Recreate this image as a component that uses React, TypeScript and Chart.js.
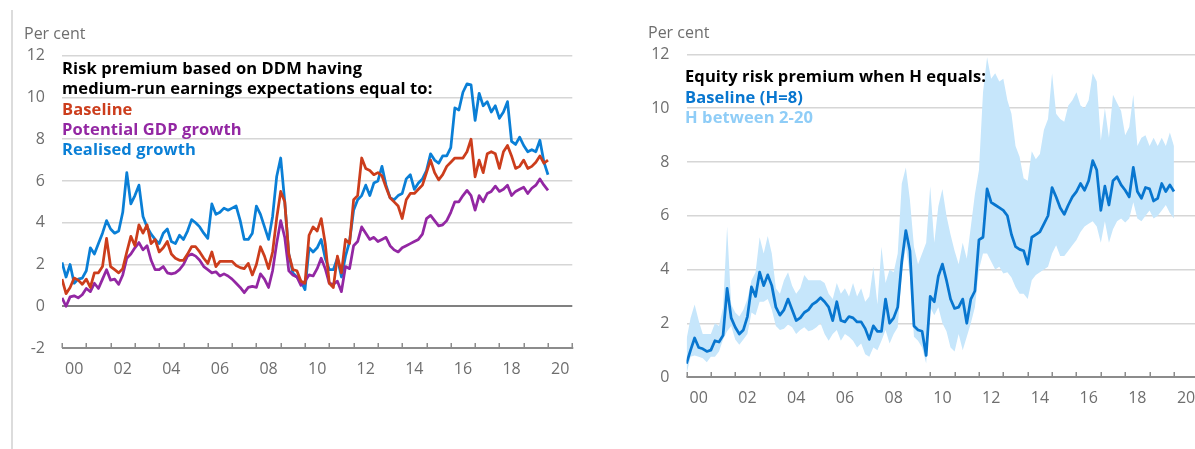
import React, { useEffect, useRef } from 'react';
import { Chart, registerables } from 'chart.js';

Chart.register(...registerables);

// Bi-monthly observations, Jan 2000 .. Jan 2020
const leftBaseline = [
  1.3, 0.6, 0.9, 1.35, 1.25, 1.05,
  1.3, 0.9, 1.6, 1.6, 1.9, 3.25,
  1.9, 1.75, 1.6, 1.8, 2.6, 3.35,
  2.9, 3.9, 3.5, 3.9, 3.0, 3.2,
  2.6, 2.8, 3.1, 2.5, 2.3, 2.2,
  2.2, 2.5, 2.85, 2.85, 2.6, 2.3,
  2.05, 2.6, 1.9, 2.15, 2.15, 2.15,
  2.15, 1.95, 1.85, 1.8, 2.05, 1.5,
  2.0, 2.85, 2.4, 1.8, 2.6, 4.2,
  5.5, 5.0, 2.5, 1.75, 1.7, 1.2,
  1.1, 3.4, 3.8, 3.6, 4.2, 3.0,
  1.1, 0.9, 2.4, 1.6, 3.2, 3.0,
  5.1, 5.3, 7.1, 6.6, 6.5, 6.3,
  6.4, 6.25, 5.7, 5.2, 5.0, 4.8,
  4.2, 5.1, 5.4, 5.4, 5.6, 5.8,
  6.4, 7.0, 6.4, 6.05, 6.3, 6.7,
  6.9, 7.1, 7.1, 7.1, 7.4, 8.0,
  6.2, 7.0, 6.4, 7.3, 7.4, 7.3,
  6.6, 7.4, 7.7, 7.2, 6.6, 6.7,
  7.0, 6.6, 6.7, 6.9, 7.2, 6.85,
  7.0,
];

const leftPotential = [
  0.4, 0.0, 0.45, 0.5, 0.4, 0.55,
  0.85, 0.7, 1.1, 0.85, 1.3, 1.75,
  1.25, 1.3, 1.05, 1.5, 2.3, 2.5,
  2.8, 3.05, 2.7, 2.9, 2.2, 1.75,
  1.75, 1.9, 1.6, 1.55, 1.6, 1.75,
  2.0, 2.4, 2.5, 2.4, 2.2, 1.9,
  1.75, 1.6, 1.65, 1.45, 1.55, 1.45,
  1.3, 1.1, 0.9, 0.65, 0.9, 0.95,
  0.9, 1.55, 1.3, 0.9, 1.7, 3.0,
  4.1, 3.3, 1.7, 1.5, 1.4, 1.0,
  1.2, 1.5, 1.45, 1.8, 2.3, 1.8,
  1.1, 1.05, 1.2, 0.7, 1.9, 1.8,
  2.9, 3.1, 3.8, 3.5, 3.2, 3.3,
  3.1, 3.2, 3.3, 2.9, 2.7, 2.6,
  2.8, 2.9, 3.0, 3.1, 3.2, 3.45,
  4.2, 4.35, 4.1, 3.85, 3.9, 4.1,
  4.5, 5.0, 5.0, 5.3, 5.55, 5.3,
  4.6, 5.3, 5.0, 5.4, 5.5, 5.75,
  5.5, 5.6, 5.8, 5.3, 5.5, 5.6,
  5.7, 5.4, 5.65, 5.8, 6.1, 5.8,
  5.55,
];

const leftRealised = [
  2.1, 1.4, 2.0, 1.1, 1.3, 1.35,
  1.7, 2.8, 2.5, 3.0, 3.5, 4.1,
  3.7, 3.5, 3.6, 4.5, 6.4, 4.9,
  5.3, 5.8, 4.3, 3.8, 3.45, 3.2,
  3.0, 3.5, 3.7, 3.1, 3.0, 3.4,
  3.2, 3.6, 4.15, 4.0, 3.8, 3.5,
  3.25, 4.9, 4.4, 4.5, 4.7, 4.6,
  4.7, 4.8, 4.1, 3.2, 3.2, 3.5,
  4.8, 4.4, 3.8, 3.2, 4.3, 6.2,
  7.1, 5.0, 2.5, 1.6, 1.4, 1.2,
  0.8, 2.8, 2.6, 2.8, 3.2, 2.3,
  1.75, 1.75, 2.3, 1.4, 2.4, 3.1,
  4.6, 5.1, 5.3, 5.8, 5.3, 5.9,
  6.0, 6.7, 5.8, 5.2, 5.1, 5.3,
  5.4, 6.1, 6.3, 5.6, 5.9, 6.1,
  6.5, 7.3, 7.0, 6.85, 7.2, 7.2,
  7.6, 9.5, 9.4, 10.25, 10.65, 10.6,
  8.9, 10.2, 9.6, 9.8, 9.3, 9.6,
  9.0, 9.3, 9.8, 7.9, 7.75, 8.1,
  7.7, 7.4, 7.5, 7.4, 7.95, 6.9,
  6.3,
];

const rightBaseline = [
  0.5, 1.0, 1.45, 1.1, 1.05, 0.95,
  1.0, 1.35, 1.3, 1.55, 3.3, 2.2,
  1.85, 1.6, 1.75, 2.25, 3.35, 3.0,
  3.9, 3.4, 3.8, 3.4, 2.6, 2.3,
  2.5, 2.9, 2.5, 2.1, 2.2, 2.4,
  2.5, 2.7, 2.8, 2.95, 2.8, 2.6,
  2.1, 2.8, 2.1, 2.05, 2.25, 2.2,
  2.05, 2.05, 1.8, 1.4, 1.9, 1.7,
  1.7, 2.9, 2.0, 2.2, 2.6, 4.3,
  5.45, 4.7, 1.9, 1.75, 1.7, 0.8,
  3.0, 2.8, 3.75, 4.2, 3.6, 2.9,
  2.55, 2.6, 2.9, 2.0, 2.9, 3.2,
  5.1, 5.2, 7.0, 6.5, 6.4, 6.3,
  6.2, 6.0, 5.3, 4.85, 4.75, 4.7,
  4.2, 5.2, 5.3, 5.4, 5.7, 6.0,
  7.05, 6.7, 6.3, 6.05, 6.4, 6.7,
  6.9, 7.2, 6.95, 7.3, 8.05, 7.7,
  6.2, 7.1, 6.4, 7.3, 7.45, 7.15,
  6.95, 6.7, 7.8, 6.9, 6.65, 7.05,
  7.0, 6.55, 6.65, 7.2, 6.9, 7.15,
  6.9,
];

const rightUpper = [
  1.4, 2.2, 2.7, 2.1, 1.6, 1.6,
  1.6, 2.0, 1.9, 2.6, 5.6, 2.7,
  2.4, 2.25, 2.5, 2.9, 3.6, 3.9,
  5.2, 4.6, 5.25, 4.6, 3.3, 3.1,
  3.6, 3.9, 3.4, 3.1, 3.3, 3.8,
  3.6, 3.6, 3.6, 3.6, 3.5, 3.1,
  2.9, 3.5, 3.1, 3.3, 3.0, 3.5,
  3.0, 3.3, 2.8, 3.0, 4.1, 2.7,
  4.85, 3.5, 4.0, 3.9, 4.6, 7.2,
  7.8, 6.6, 4.85, 4.2, 4.6, 5.0,
  7.1, 5.0, 6.35, 7.0, 6.0, 5.3,
  4.7, 4.2, 5.0, 4.4, 5.6, 6.8,
  7.7, 10.6, 11.9, 11.1, 11.3, 11.0,
  11.1, 10.3, 9.8, 8.6, 8.2, 7.4,
  7.3, 8.4, 8.1, 8.3, 9.2, 9.6,
  11.3, 9.8, 9.6, 9.5, 10.1, 10.3,
  10.6, 10.1, 10.0, 10.3, 11.3, 11.0,
  8.8, 10.0, 8.9, 10.5, 10.2, 9.9,
  9.0, 9.3, 10.5, 8.6, 8.9, 9.0,
  8.6, 8.9, 8.6, 8.9, 8.6, 9.1,
  8.6,
];

const rightLower = [
  0.1, 0.75, 0.8, 0.75, 0.7, 0.55,
  0.75, 0.75, 0.95, 1.4, 1.7, 1.9,
  1.4, 1.2, 1.4, 1.6, 2.4, 2.3,
  2.8, 2.8, 2.9, 2.5, 1.9, 1.75,
  1.8, 1.95, 1.85, 1.6, 1.75, 1.85,
  1.7, 1.75, 1.85, 2.0, 1.6, 1.35,
  1.6, 1.75, 1.35, 1.6, 1.5, 1.35,
  1.1, 1.25, 0.85, 0.75, 1.1, 1.0,
  1.35, 1.75, 1.25, 1.6, 1.85, 3.85,
  4.85, 3.8, 1.5, 1.35, 1.1, 0.5,
  2.6, 2.3, 2.6, 2.0, 1.7, 1.1,
  0.95, 1.6, 1.0, 1.5, 2.0, 2.6,
  4.0, 4.6, 4.6, 4.3, 4.0, 4.1,
  3.85, 3.9, 3.7, 3.35, 3.1, 3.1,
  2.9, 3.6, 3.8, 3.9, 4.0, 4.1,
  4.6, 4.9, 4.5, 4.5, 4.7, 4.9,
  5.1, 5.4, 5.6, 5.7, 5.8, 5.6,
  5.0, 5.8, 5.0, 5.5, 5.8, 5.9,
  5.75, 5.9, 6.5, 5.9, 5.8, 6.0,
  6.2, 5.9, 6.0, 6.2, 6.4, 6.1,
  5.9,
];

const yearLabels = ['00', '02', '04', '06', '08', '10', '12', '14', '16', '18', '20'];
const labelYears = [2000, 2002, 2004, 2006, 2008, 2010, 2012, 2014, 2016, 2018, 2020];
const tickYears = Array.from({ length: 22 }, (_, i) => 2000 + i);
const dates = leftRealised.map((_, i) => 2000 + i / 6);

const RED = '#cc3d1c';
const PURPLE = '#9327a3';
const BLUE = '#0a7fd6';
const RBLUE = '#0876cf';
const BAND = '#c6e6fb';
const BAND_TEXT = '#8fcdf7';
const GRAY_TEXT = '#6e6e6e';
const GRID = '#d6d6d6';
const AXIS = '#8c8c8c';
const FONT = '"Open Sans", "Noto Sans", sans-serif';

const toPts = (vals: number[]) => vals.map((v, i) => ({ x: dates[i], y: v }));

const axisPlugin = {
  id: 'axisTicks',
  afterDraw(chart: any) {
    const ctx = chart.ctx;
    const xs = chart.scales.x;
    const { left, bottom } = chart.chartArea;
    const right = xs.getPixelForValue(2021);
    ctx.save();
    ctx.strokeStyle = AXIS;
    ctx.lineWidth = 2;
    ctx.beginPath();
    ctx.moveTo(left, bottom);
    ctx.lineTo(right + 1, bottom);
    ctx.stroke();
    ctx.lineWidth = 1.5;
    ctx.beginPath();
    for (const yr of tickYears) {
      const px = Math.round(xs.getPixelForValue(yr)) + 0.25;
      ctx.moveTo(px, bottom);
      ctx.lineTo(px, bottom - 5);
    }
    ctx.stroke();
    ctx.restore();
  },
};

function makeXScale(labelPadding: number, height: number) {
  return {
    type: 'linear',
    min: 2000,
    max: 2021,
    afterBuildTicks: (scale: any) => {
      scale.ticks = labelYears.map((y) => ({ value: y + 0.5 }));
    },
    afterFit: (scale: any) => {
      scale.height = height;
    },
    grid: { display: false, drawTicks: false },
    border: { display: false },
    ticks: {
      autoSkip: false,
      maxRotation: 0,
      padding: labelPadding,
      color: GRAY_TEXT,
      font: { family: FONT, size: 16 },
      callback: (_v: any, i: number) => yearLabels[i],
    },
  };
}

function makeYScale(min: number, max: number, width: number, zeroDark: boolean) {
  return {
    min,
    max,
    afterFit: (scale: any) => {
      scale.width = width;
    },
    border: { display: false },
    grid: {
      drawTicks: false,
      color: (c: any) => {
        const v = c.tick?.value;
        if (v === min) return 'rgba(0,0,0,0)';
        if (v === 0 && zeroDark) return '#808080';
        return GRID;
      },
      lineWidth: (c: any) => (c.tick?.value === 0 && zeroDark ? 2 : 1.5),
    },
    ticks: {
      stepSize: 2,
      padding: 17,
      color: GRAY_TEXT,
      font: { family: FONT, size: 16 },
      callback: (v: any) => String(v),
    },
  };
}

const lineDs = (label: string, vals: number[], color: string) => ({
  label,
  data: toPts(vals),
  borderColor: color,
  backgroundColor: color,
  borderWidth: 2.75,
  pointRadius: 0,
  tension: 0,
  fill: false,
  borderJoinStyle: 'round',
});

function LeftChart() {
  const ref = useRef<HTMLCanvasElement>(null);
  useEffect(() => {
    if (!ref.current) return;
    const chart = new Chart(ref.current, {
      type: 'line',
      data: {
        datasets: [
          lineDs('Baseline', leftBaseline, RED),
          lineDs('Potential GDP growth', leftPotential, PURPLE),
          lineDs('Realised growth', leftRealised, BLUE),
        ],
      },
      options: {
        animation: false,
        responsive: false,
        events: [],
        layout: { padding: { top: 55.7, right: 22.7, left: 0, bottom: 0 } },
        plugins: { legend: { display: false }, tooltip: { enabled: false } },
        scales: {
          x: makeXScale(12, 101),
          y: makeYScale(-2, 12, 62, true),
        },
      } as any,
      plugins: [axisPlugin],
    });
    return () => chart.destroy();
  }, []);
  return <canvas ref={ref} width={595} height={449} style={{ position: 'absolute', left: 0, top: 0, width: 595, height: 449 }} />;
}

function RightChart() {
  const ref = useRef<HTMLCanvasElement>(null);
  useEffect(() => {
    if (!ref.current) return;
    const chart = new Chart(ref.current, {
      type: 'line',
      data: {
        datasets: [
          lineDs('Baseline (H=8)', rightBaseline, RBLUE),
          {
            label: 'H between 2-20',
            data: toPts(rightUpper),
            borderWidth: 0,
            borderColor: BAND,
            backgroundColor: BAND,
            pointRadius: 0,
            tension: 0,
            fill: '+1',
          },
          {
            label: 'H lower',
            data: toPts(rightLower),
            borderWidth: 0,
            borderColor: BAND,
            backgroundColor: BAND,
            pointRadius: 0,
            tension: 0,
            fill: false,
          },
        ],
      },
      options: {
        animation: false,
        responsive: false,
        events: [],
        layout: { padding: { top: 54.5, right: 11.7, left: 0, bottom: 0 } },
        plugins: { legend: { display: false }, tooltip: { enabled: false } },
        scales: {
          x: makeXScale(12, 72),
          y: makeYScale(0, 12, 86.5, false),
        },
      } as any,
      plugins: [axisPlugin],
    });
    return () => chart.destroy();
  }, []);
  return <canvas ref={ref} width={610} height={449} style={{ position: 'absolute', left: 600, top: 0, width: 610, height: 449 }} />;
}

const textBase: React.CSSProperties = {
  position: 'absolute',
  fontFamily: FONT,
  whiteSpace: 'nowrap',
  margin: 0,
};

export default function App() {
  return (
    <div style={{ position: 'absolute', left: 0, top: 0, width: 1195, height: 449, overflow: 'hidden', background: '#fff' }}>
      <div style={{ position: 'absolute', left: 11, top: 10, width: 2, height: 439, background: '#dcdcdc' }} />
      <LeftChart />
      <RightChart />
      <div style={{ ...textBase, left: 24, top: 22, fontSize: 16, lineHeight: '22px', color: GRAY_TEXT }}>Per cent</div>
      <div style={{ ...textBase, left: 648, top: 21, fontSize: 16, lineHeight: '22px', color: GRAY_TEXT }}>Per cent</div>
      <div style={{ ...textBase, left: 62, top: 58, fontSize: 16.5, letterSpacing: '0.1px', lineHeight: '20.25px', fontWeight: 700 }}>
        <div style={{ color: '#000' }}>Risk premium based on DDM having</div>
        <div style={{ color: '#000' }}>medium-run earnings expectations equal to:</div>
        <div style={{ color: RED }}>Baseline</div>
        <div style={{ color: PURPLE }}>Potential GDP growth</div>
        <div style={{ color: BLUE }}>Realised growth</div>
      </div>
      <div style={{ ...textBase, left: 685, top: 66, fontSize: 16.5, letterSpacing: '0.1px', lineHeight: '20.5px', fontWeight: 700 }}>
        <div style={{ color: '#000' }}>Equity risk premium when H equals:</div>
        <div style={{ color: RBLUE }}>Baseline (H=8)</div>
        <div style={{ color: BAND_TEXT }}>H between 2-20</div>
      </div>
    </div>
  );
}
